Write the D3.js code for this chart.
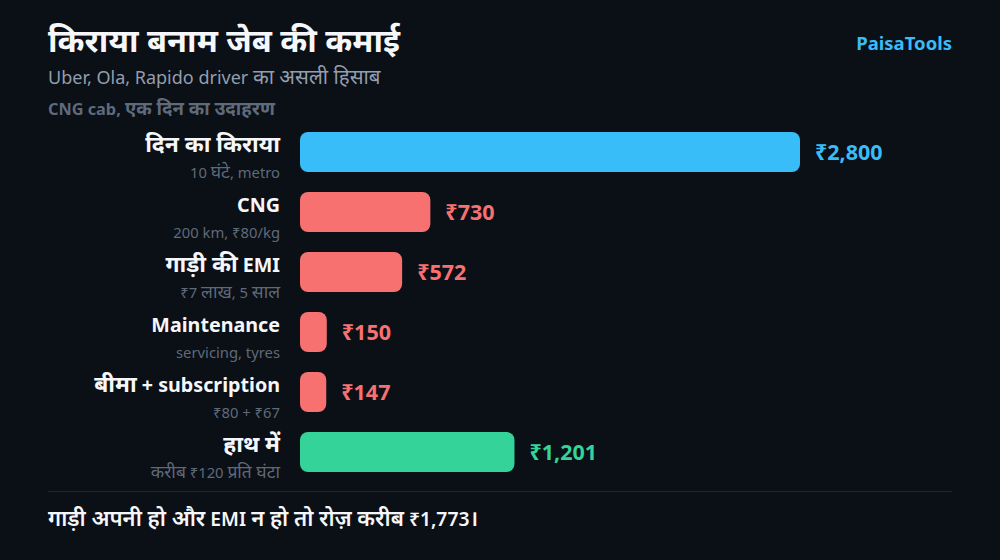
<!DOCTYPE html>
<html>
<head>
<meta charset="utf-8">
<script src="https://cdn.jsdelivr.net/npm/d3@7"></script>
<style>
  body { margin: 0; background: #0b0f16; }
  text { font-family: "Noto Sans", sans-serif; }
</style>
</head>
<body>
<div id="chart"></div>
<script>
// data
const labels = ["दिन का किराया", "CNG", "गाड़ी की EMI", "Maintenance", "बीमा + subscription", "हाथ में"];
const notes = ["10 घंटे, metro", "200 km, ₹80/kg", "₹7 लाख, 5 साल", "servicing, tyres", "₹80 + ₹67", "करीब ₹120 प्रति घंटा"];
const values = [2800, 730, 572, 150, 147, 1201];
const kinds = ["fare", "cost", "cost", "cost", "cost", "net"];

const colors = { fare: "#38bdf8", cost: "#f87171", net: "#34d399" };
const DEV = 1.14; // devanagari glyphs run a bit bigger than the latin ones

const W = 1000, H = 560;
const svg = d3.select("#chart").append("svg")
    .attr("width", W)
    .attr("height", H);

svg.append("rect").attr("width", W).attr("height", H).attr("fill", "#0b0f16");

// split text into latin / devanagari runs so the hindi can be sized up
function mixed(sel, str, size, k) {
    k = k || DEV;
    sel.attr("font-size", size);
    const re = /[\u0900-\u097F]+(?:\s+[\u0900-\u097F]+)*/g;
    let last = 0, m;
    while ((m = re.exec(str)) !== null) {
        if (m.index > last) sel.append("tspan").text(str.slice(last, m.index));
        sel.append("tspan").attr("font-size", size * k).text(m[0]);
        last = m.index + m[0].length;
    }
    if (last < str.length) sel.append("tspan").text(str.slice(last));
    return sel;
}

// header
svg.append("text").attr("x", 48).attr("y", 52)
    .attr("font-weight", 700).attr("fill", "#f5f7fa")
    .call(mixed, "किराया बनाम जेब की कमाई", 28.5);
svg.append("text").attr("x", 48).attr("y", 84)
    .attr("fill", "#939eae")
    .call(mixed, "Uber, Ola, Rapido driver का असली हिसाब", 18);
svg.append("text").attr("x", 48).attr("y", 115)
    .attr("font-weight", 700).attr("fill", "#5f6b7b")
    .call(mixed, "CNG cab, एक दिन का उदाहरण", 16.3);
svg.append("text").attr("x", 952).attr("y", 50)
    .attr("text-anchor", "end")
    .attr("font-size", 18.5).attr("font-weight", 700).attr("fill", "#38bdf8")
    .text("PaisaTools");

const x = d3.scaleLinear().domain([0, 2800]).range([300, 800]);
const y = d3.scaleBand().domain(d3.range(labels.length)).range([122, 482]).paddingInner(1/3).paddingOuter(1/6);

const rows = svg.selectAll("g.row")
    .data(values)
    .enter()
    .append("g")
    .attr("class", "row");

rows.append("rect")
    .attr("x", x(0))
    .attr("y", (d, i) => y(i))
    .attr("width", d => x(d) - x(0))
    .attr("height", y.bandwidth())
    .attr("rx", 8)
    .attr("fill", (d, i) => colors[kinds[i]]);

rows.append("text")
    .attr("x", d => x(d) + 15)
    .attr("y", (d, i) => y(i) + y.bandwidth() / 2 + 8)
    .attr("font-size", 21.5).attr("font-weight", 700)
    .attr("fill", (d, i) => colors[kinds[i]])
    .text(d => "₹" + d3.format(",")(d));

rows.append("text")
    .attr("x", 280)
    .attr("y", (d, i) => y(i) + 20)
    .attr("text-anchor", "end")
    .attr("font-weight", 700).attr("fill", "#f5f7fa")
    .each(function(d, i) { mixed(d3.select(this), labels[i], 19.7, 1.16); });

rows.append("text")
    .attr("x", 280)
    .attr("y", (d, i) => y(i) + 46)
    .attr("text-anchor", "end")
    .attr("fill", "#5f6a79")
    .each(function(d, i) { mixed(d3.select(this), notes[i], 14.8, 1.18); });

// footer
svg.append("line")
    .attr("x1", 48).attr("x2", 952).attr("y1", 491.5).attr("y2", 491.5)
    .attr("stroke", "#1e2530").attr("stroke-width", 1);
svg.append("text").attr("x", 48).attr("y", 526)
    .attr("font-weight", 600).attr("fill", "#f5f7fa")
    .call(mixed, "गाड़ी अपनी हो और EMI न हो तो रोज़ करीब ₹1,773।", 19.3);
</script>
</body>
</html>
